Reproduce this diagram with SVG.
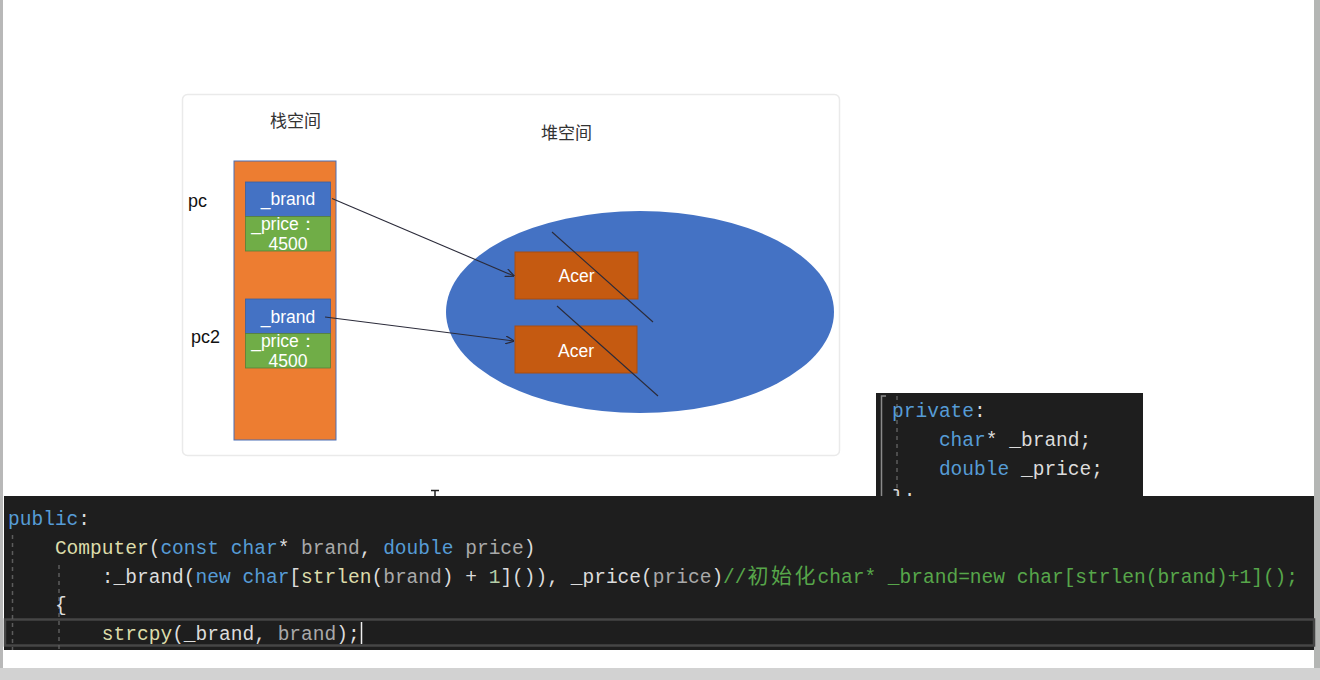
<svg xmlns="http://www.w3.org/2000/svg" width="1320" height="680" viewBox="0 0 1320 680">
<style>
.cjk{font-family:"Noto Sans CJK SC","Noto Sans",sans-serif;fill:#333;font-size:17px}
.lbl{font-family:"Liberation Sans",Arial,sans-serif;fill:#111;font-size:18px}
.wt{font-family:"Liberation Sans",Arial,sans-serif;fill:#fff;font-size:17.5px;text-anchor:middle}
.code{font-family:"Liberation Mono","DejaVu Sans Mono",monospace;font-size:19.55px;fill:#DCDCDC}
.kw{fill:#569CD6}.fn{fill:#DCDCAA}.pr{fill:#A9A9A9}.num{fill:#B5CEA8}.cm{fill:#57A64A}
.guide{stroke:#5C5C5C;stroke-width:1.5;stroke-dasharray:4 4}
.conn{stroke:#2B2B3A;stroke-width:1.1;fill:none}
</style>
<defs>
<marker id="arr" viewBox="0 0 10 10" refX="9.5" refY="5" markerWidth="9" markerHeight="9" orient="auto" markerUnits="userSpaceOnUse">
<path d="M0,0.5 L10,5 L0,9.5" fill="none" stroke="#2B2B3A" stroke-width="1.4"/>
</marker>
</defs>
<rect width="1320" height="680" fill="#fff"/>
<rect x="0" y="0" width="3" height="680" fill="#B8B8B8"/>
<rect x="1314" y="0" width="6" height="680" fill="#B4B6B4"/>
<rect x="0" y="668" width="1320" height="12" fill="#D2D2D2"/>

<g id="panel">
<rect x="182.5" y="94.5" width="657" height="361" rx="5" fill="#fff" stroke="#EAEAEA" stroke-width="1.5"/>
<text class="cjk" x="270" y="127">栈空间</text>
<text class="cjk" x="541" y="139">堆空间</text>
</g>

<g id="stack">
<rect x="234" y="161" width="102" height="279" fill="#ED7D31" stroke="#4A6FB5" stroke-width="1"/>
</g>
<g id="pc">
<text class="lbl" x="188" y="207">pc</text>
<rect x="245.5" y="182" width="85" height="34.5" fill="#4472C4" stroke="#3A5FA0" stroke-width="0.8"/>
<rect x="245.5" y="216.5" width="85" height="34.5" fill="#70AD47" stroke="#557F3A" stroke-width="0.8"/>
<text class="wt" x="288" y="205">_brand</text>
<text class="wt" x="284" y="230">_price：</text>
<text class="wt" x="288" y="250">4500</text>
</g>
<g id="pc2">
<text class="lbl" x="191" y="343">pc2</text>
<rect x="245.5" y="299" width="85" height="34.5" fill="#4472C4" stroke="#3A5FA0" stroke-width="0.8"/>
<rect x="245.5" y="333.5" width="85" height="34.5" fill="#70AD47" stroke="#557F3A" stroke-width="0.8"/>
<text class="wt" x="288" y="323">_brand</text>
<text class="wt" x="284" y="347">_price：</text>
<text class="wt" x="288" y="367">4500</text>
</g>

<g id="heap">
<ellipse cx="640" cy="312" rx="194" ry="101" fill="#4472C4"/>
</g>
<g id="acer1">
<rect x="515" y="252" width="123" height="47" fill="#C55A11" stroke="#A94D10" stroke-width="1"/>
<text class="wt" x="576.5" y="282">Acer</text>
</g>
<g id="acer2">
<rect x="515" y="326" width="122" height="47" fill="#C55A11" stroke="#A94D10" stroke-width="1"/>
<text class="wt" x="576" y="357">Acer</text>
</g>

<g id="connectors">
<line class="conn" x1="332" y1="198.5" x2="514" y2="276" marker-end="url(#arr)"/>
<line class="conn" x1="325" y1="317" x2="514" y2="341" marker-end="url(#arr)"/>
<line class="conn" x1="552" y1="232" x2="653" y2="322"/>
<line class="conn" x1="557" y1="306" x2="658" y2="396"/>
</g>

<g id="cursor">
<path d="M431,490.5 H439 M435,490.5 V496" stroke="#222" stroke-width="1.5" fill="none"/>
</g>

<g id="code-private">
<rect x="876" y="393" width="267" height="104" fill="#1E1E1E"/>
<path d="M886,396 H881.5 V497" stroke="#8A8A8A" stroke-width="1.5" fill="none"/>
<line class="guide" x1="897" y1="396" x2="897" y2="497"/>
<text class="code" x="892" y="417" xml:space="preserve"><tspan class="kw">private</tspan>:</text>
<text class="code" x="938.9" y="446" xml:space="preserve"><tspan class="kw">char</tspan>* _brand;</text>
<text class="code" x="938.9" y="475" xml:space="preserve"><tspan class="kw">double</tspan> _price;</text>
<text class="code" x="892" y="504" xml:space="preserve">};</text>
</g>

<g id="code-main">
<rect x="4" y="496" width="1310" height="154" fill="#1E1E1E"/>
<rect x="5" y="619.5" width="1309" height="26" fill="none" stroke="#464646" stroke-width="2.5"/>
<line class="guide" x1="12.5" y1="535" x2="12.5" y2="650"/>
<line class="guide" x1="59" y1="565" x2="59" y2="650"/>
<text class="code" x="8" y="525" xml:space="preserve"><tspan class="kw">public</tspan>:</text>
<text class="code" x="54.9" y="554" xml:space="preserve"><tspan class="fn">Computer</tspan>(<tspan class="kw">const</tspan> <tspan class="kw">char</tspan>* <tspan class="pr">brand</tspan>, <tspan class="kw">double</tspan> <tspan class="pr">price</tspan>)</text>
<text class="code" x="101.8" y="582.5" xml:space="preserve">:_brand(<tspan class="kw">new</tspan> <tspan class="kw">char</tspan>[<tspan class="fn">strlen</tspan>(<tspan class="pr">brand</tspan>) + <tspan class="num">1</tspan>]()), _price(<tspan class="pr">price</tspan>)<tspan class="cm">//</tspan></text>
<text class="cm" x="747.5 770.9 794.4" y="582.5" style="font-family:'Noto Sans CJK SC',sans-serif;font-size:21px">初始化</text>
<text class="code cm" x="817.5" y="582.5" xml:space="preserve">char* _brand=new char[strlen(brand)+1]();</text>
<text class="code" x="54.9" y="611" xml:space="preserve">{</text>
<text class="code" x="101.8" y="639.5" xml:space="preserve"><tspan class="fn">strcpy</tspan>(_brand, <tspan class="pr">brand</tspan>);</text>
<line x1="361.5" y1="622" x2="361.5" y2="644" stroke="#EEE" stroke-width="1.5"/>
</g>
</svg>
